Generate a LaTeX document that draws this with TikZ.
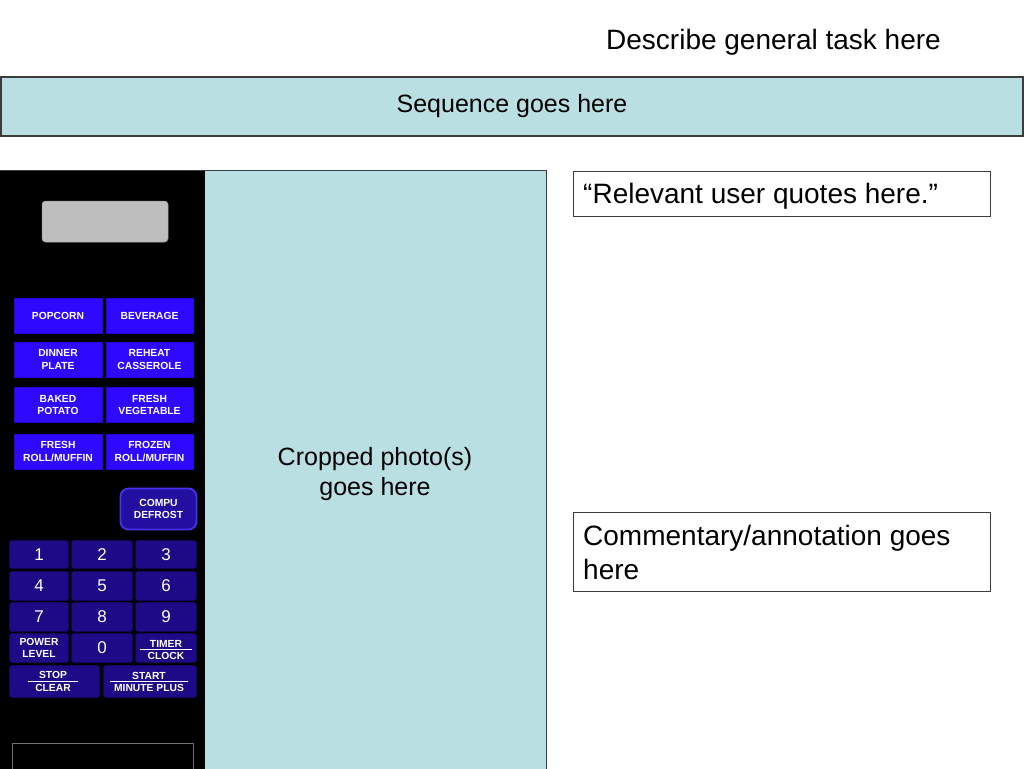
\documentclass[tikz,border=0pt]{standalone}
\usepackage{fontspec}
\setmainfont{Liberation Sans}
\definecolor{lightblue}{RGB}{185,223,227}
\definecolor{btnblue}{RGB}{46,8,255}
\definecolor{keynavy}{RGB}{30,10,135}
\definecolor{defrostfill}{RGB}{34,14,160}
\definecolor{defrostedge}{RGB}{70,50,235}
\definecolor{dispgray}{RGB}{190,190,190}
\definecolor{edgegray}{RGB}{60,60,60}
\definecolor{outlinegray}{RGB}{115,115,115}
\begin{document}
\begin{tikzpicture}[x=1pt,y=-1pt,
  frame/.style={draw=edgegray, line width=1pt, inner sep=0pt},
  bigtext/.style={font=\fontsize{28}{34}\selectfont, inner sep=0pt, text=black},
  midtext/.style={font=\fontsize{25}{30}\selectfont, inner sep=0pt, text=black, align=center},
  food/.style={fill=btnblue, draw=btnblue!80!black, line width=0.4pt, inner sep=0pt,
    font=\fontsize{10.3}{12.3}\selectfont\bfseries, text=white, align=center,
    minimum height=35},
  key/.style={fill=keynavy, draw=black, line width=0.8pt, rounded corners=2.5pt, inner sep=0pt,
    font=\fontsize{17}{20}\selectfont, text=white, align=center},
  keylbl/.style={font=\fontsize{10.3}{12}\selectfont\bfseries, text=white, inner sep=0pt, align=center},
  fracline/.style={white, line width=1.1pt}
]
\useasboundingbox (0,0) rectangle (1024,768);
\fill[white] (0,0) rectangle (1024,768);

% title
\node[bigtext, anchor=base west] (task) at (606,49) {Describe general task here};

% sequence banner
\node[frame, fill=lightblue, line width=1.3pt, minimum width=1022, minimum height=59,
  font=\fontsize{25}{30}\selectfont] (seq) at (512,106.5) {Sequence goes here};

% photo region
\node[frame, fill=lightblue, minimum width=546, minimum height=599, anchor=north west] (photo) at (0,170) {};
\node[fill=black, inner sep=0pt, minimum width=205, minimum height=598.5, anchor=north west] (panel) at (0,170.5) {};
\node[midtext] (crop) at (375,474.5) {Cropped photo(s)\\goes here};

% display
\node[fill=dispgray, draw=dispgray!85!black, line width=0.5pt, rounded corners=3.5pt,
  minimum width=126, minimum height=41, inner sep=0pt] (disp) at (105,221.5) {};

% food buttons
\node[food, minimum width=88] (pop) at (58,315.5) {POPCORN};
\node[food, minimum width=87] (bev) at (149.5,315.5) {BEVERAGE};
\node[food, minimum width=88] (din) at (58,359.5) {DINNER\\PLATE};
\node[food, minimum width=87] (reh) at (149.5,359.5) {REHEAT\\CASSEROLE};
\node[food, minimum width=88] (bak) at (58,405) {BAKED\\POTATO};
\node[food, minimum width=87] (veg) at (149.5,405) {FRESH\\VEGETABLE};
\node[food, minimum width=88] (frr) at (58,451.5) {FRESH\\ROLL/MUFFIN};
\node[food, minimum width=87] (fzr) at (149.5,451.5) {FROZEN\\ROLL/MUFFIN};

% compu defrost
\node[fill=defrostfill, draw=defrostedge, line width=1.8pt, rounded corners=8pt,
  minimum width=76, minimum height=41, inner sep=0pt, text=white, align=center,
  font=\fontsize{10.3}{12.3}\selectfont\bfseries] (defrost) at (158.5,509) {COMPU\\DEFROST};

% keypad
\node[key, minimum width=60, minimum height=29] (k1) at (39,554.5) {1};
\node[key, minimum width=62, minimum height=29] (k2) at (102,554.5) {2};
\node[key, minimum width=62, minimum height=29] (k3) at (166,554.5) {3};
\node[key, minimum width=60, minimum height=30] (k4) at (39,586) {4};
\node[key, minimum width=62, minimum height=30] (k5) at (102,586) {5};
\node[key, minimum width=62, minimum height=30] (k6) at (166,586) {6};
\node[key, minimum width=60, minimum height=30] (k7) at (39,617) {7};
\node[key, minimum width=62, minimum height=30] (k8) at (102,617) {8};
\node[key, minimum width=62, minimum height=30] (k9) at (166,617) {9};
\node[key, minimum width=60, minimum height=30] (kpow) at (39,648) {};
\node[keylbl] (powlbl) at (kpow.center) {POWER\\LEVEL};
\node[key, minimum width=62, minimum height=30] (k0) at (102,648) {0};
\node[key, minimum width=62, minimum height=30] (ktim) at (166,648) {};
\node[keylbl, anchor=south] (timt) at (166,647.5) {TIMER};
\node[keylbl, anchor=north] (timb) at (166,652) {CLOCK};
\draw[fracline] ([xshift=-26pt]timt.south |- 0,649.7) coordinate (tl) -- ([xshift=26pt]timt.south |- 0,649.7) coordinate (tr);
\node[key, minimum width=91, minimum height=33] (kstop) at (54.5,681.5) {};
\node[keylbl, anchor=south] (stopt) at (53,679) {STOP};
\node[keylbl, anchor=north] (stopb) at (53,684) {CLEAR};
\draw[fracline] ([xshift=-25pt]stopt.south |- 0,681.3) -- ([xshift=25pt]stopt.south |- 0,681.3);
\node[key, minimum width=94, minimum height=33] (kstart) at (150,681.5) {};
\node[keylbl, anchor=south] (startt) at (149,679.5) {START};
\node[keylbl, anchor=north] (startb) at (149,684.5) {MINUTE PLUS};
\draw[fracline] ([xshift=-39pt]startt.south |- 0,681.5) -- ([xshift=39pt]startt.south |- 0,681.5);

% bottom outline
\draw[draw=outlinegray, line width=1pt] (12.5,770) -- (12.5,743.5) -- (193,743.5) -- (193,770);

% quote box
\node[frame, fill=white, minimum width=417, minimum height=45, anchor=north west] (quote) at (572.5,171) {};
\node[bigtext, anchor=base west] (quotetxt) at (583,203.5) {“Relevant user quotes here.”};

% commentary box
\node[frame, fill=white, minimum width=417, minimum height=79, anchor=north west] (comm) at (572.5,512) {};
\node[bigtext, anchor=north west, align=left] (commtxt) at (583,525) {Commentary/annotation goes\\here};
\end{tikzpicture}
\end{document}
